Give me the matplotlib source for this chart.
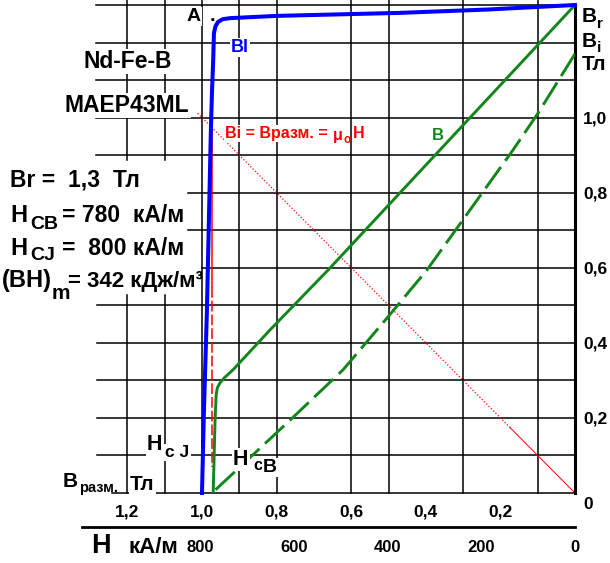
import numpy as np
import matplotlib
matplotlib.use("Agg")
import matplotlib.pyplot as plt

# ---- data (B in T, along the B_razm = mu0*H axis) ----
# Bi (J) curve, blue
bi_b = [0.0, 0.233, 0.47, 0.80, 0.925, 0.945, 0.957, 0.964, 0.968, 0.970, 0.973, 0.976, 0.987, 0.995, 1.0]
bi_v = [1.30, 1.288, 1.279, 1.271, 1.265, 1.262, 1.255, 1.243, 1.225, 1.153, 1.074, 0.975, 0.479, 0.213, 0.0]

# B curve, green solid
b_b = [0.0, 0.662, 0.818, 0.917, 0.940, 0.952, 0.959, 0.962, 0.965, 0.970]
b_v = [1.30, 0.594, 0.434, 0.328, 0.307, 0.293, 0.280, 0.262, 0.194, 0.0]

# second B curve, green dashed
bd_b = [0.0, 0.099, 0.166, 0.397, 0.504, 0.622, 0.764, 0.973]
bd_v = [1.17, 1.012, 0.914, 0.594, 0.466, 0.328, 0.194, 0.0]

# Bi = B_razm = mu0*H line (red), its solid tail, and the red vertical at HcJ
mu0h_b = [0.0, 0.174, 1.013]
hcj_b = 0.972
hcj_v = [0.967, 0.55, 0.07]

b_ticks = [1.2, 1.0, 0.8, 0.6, 0.4, 0.2]
v_ticks = [0.2, 0.4, 0.6, 0.8, 1.0]
h_ticks = [800, 600, 400, 200, 0]
h_marks = [800, 400, 0]

def comma(x):
    return ('%.1f' % x).replace('.', ',')

# ---- layout ----
plt.rcParams['font.family'] = ['Liberation Sans', 'DejaVu Sans']
plt.rcParams['font.weight'] = 'bold'

W, H = 610, 563
X0, X1, Y0, Y1 = 82, 575, 5, 493  # plot box, pixels
fig = plt.figure(figsize=(W / 100, H / 100), dpi=100)
ax = fig.add_axes([X0 / W, 1 - Y1 / H, (X1 - X0) / W, (Y1 - Y0) / H])
ax.set_xlim((X1 - X0) / 373, 0)
ax.set_ylim(0, 1.3)
ytop = 1.3 * Y1 / (Y1 - Y0)

green = '#12861a'

# irregular hand-drawn grid
grid_v = [1.3, 1.2, 1.1, 1.0, 0.9, 0.8, 0.7, 0.6, 0.5, 0.4, 0.3, 0.2, 0.1, 0.0]
grid_v_from = [1.284, 1.284, 1.284, 1.284, 1.284, 1.037, 1.037, 1.0, 1.281, 1.281, 1.281, 1.281, 1.281, 1.241]
for v, start in zip(grid_v, grid_v_from):
    ax.plot([start, 0], [v, v], color='black', lw=1.1, clip_on=False, zorder=1)
grid_b = [1.2, 1.1, 1.0, 0.9, 0.8, 0.6, 0.5, 0.3, 0.1]
for b in grid_b:
    spans = [(0, 0.528), (0.887, ytop)] if b > 1.05 else [(0, ytop)]
    for lo, hi in spans:
        ax.plot([b, b], [lo, hi], color='black', lw=1.1, clip_on=False, zorder=1)

# curves
ax.plot(mu0h_b[1:], mu0h_b[1:], color='red', lw=0.9, ls=(0, (1, 1.6)), zorder=2)
ax.plot(mu0h_b[:2], mu0h_b[:2], color='red', lw=0.7, zorder=2)
ax.plot([hcj_b, hcj_b], hcj_v[:2], color='red', lw=1.1, zorder=2)
ax.plot([hcj_b, hcj_b], hcj_v[1:], color='red', lw=1.1, dashes=(7, 2), zorder=2)
ax.plot(bd_b, bd_v, color=green, lw=2.1, dashes=(9, 2.6), zorder=3)
ax.plot(b_b, b_v, color=green, lw=2.1, zorder=3)
ax.plot(bi_b, bi_v, color='#0000ff', lw=2.9, zorder=4, clip_on=False)

# axes
for s in ['left', 'top', 'bottom']:
    ax.spines[s].set_visible(False)
ax.spines['right'].set_linewidth(2.2)
ax.yaxis.tick_right()
ax.set_yticks(v_ticks, labels=[comma(v) for v in v_ticks])
ax.set_xticks(b_ticks, labels=[comma(b) for b in b_ticks])
ax.tick_params(axis='y', length=0, pad=6, labelsize=12.5)
ax.tick_params(axis='x', length=0, pad=8, labelsize=12.5)

mu0 = 4e-7 * np.pi
secax = ax.secondary_xaxis(-(527 - Y1) / (Y1 - Y0),
                           functions=(lambda b: b / mu0 / 1e3, lambda h: h * 1e3 * mu0))
secax.set_xticks(h_ticks, labels=[str(h) for h in h_ticks])
secax.set_xticks(h_marks, minor=True)
secax.tick_params(which='major', length=0, pad=9, labelsize=12)
secax.tick_params(which='minor', direction='in', length=4, width=2)
secax.spines['bottom'].set_linewidth(2)


def put(x, y, s, size, color='black', bg=False, ha='left', z=3):
    kw = dict(bbox=dict(fc='white', ec='none', pad=1.0)) if bg else {}
    fig.text(x / W, 1 - y / H, s, fontsize=size, color=color, ha=ha,
             va='baseline', fontweight='bold', zorder=z, **kw)


put(187, 21, 'A', 14, bg=True)
put(210, 21, '.', 14)
put(231, 52, 'Bl', 13, color='#0000ff', bg=True)
put(128, 68, 'Nd-Fe-B', 16.5, ha='center', bg=True)
put(127, 112, 'MAEP43ML', 16.5, ha='center', bg=True)

put(225, 138, 'Bi = Bразм. =', 11.5, color='red', bg=True)
put(333, 140, 'μ', 11.5, color='red', bg=True)
put(353, 138, 'H', 11.5, color='red', bg=True)
put(344, 143, 'o', 8.5, color='red', z=5)
put(432, 140, 'B', 12, color=green)

put(10, 187, 'Br =  1,3  Тл', 16.5)
put(10, 222, 'H', 17)
put(30, 229, 'CB', 14)
put(62, 222, '= 780  кА/м', 16.5)
put(10, 255, 'H', 17)
put(30, 260, 'CJ', 14)
put(62, 255, '=  800 кА/м', 16.5)
put(2, 287, '(BH)', 17)
put(52, 299, 'm', 15)
put(68, 287, '= 342 кДж/м³', 16)

put(147, 450, 'H', 15.5, bg=True)
put(165, 457, 'c J', 12.5, bg=True)
put(233, 465, 'H', 15.5, bg=True)
put(253, 470, 'c', 12, bg=True)
put(263, 472, 'B', 14, bg=True)

put(63, 487, 'B', 15)
put(79, 492, 'разм.', 10.5)
put(130, 490, 'Тл', 15, bg=True)

put(582, 22, 'B', 15)
put(597, 28, 'r', 11)
put(582, 47, 'B', 15)
put(597, 52, 'i', 11)
put(582, 70, 'Тл', 15)

put(588, 509, '0', 12.5, ha='center')
put(91, 553, 'H', 19.5)
put(128, 553, 'кА/м', 16)

fig.savefig('out.png', dpi=100, facecolor='white')
